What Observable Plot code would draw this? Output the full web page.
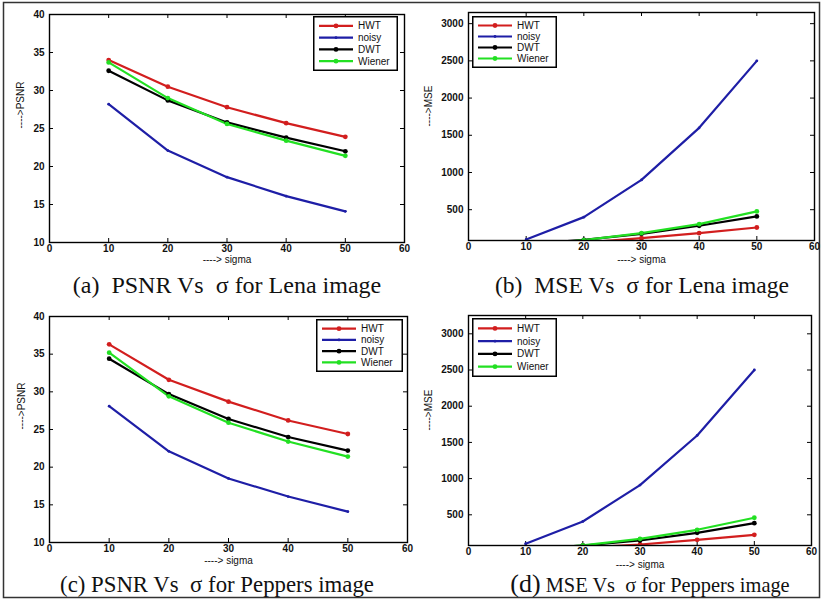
<!DOCTYPE html>
<html><head><meta charset="utf-8">
<script src="https://cdn.jsdelivr.net/npm/d3@7"></script>
<script src="https://cdn.jsdelivr.net/npm/@observablehq/plot@0.6"></script>
<style>
body{margin:0;background:#fff;}
#fig{position:relative;width:822px;height:601px;overflow:hidden;background:#fff}
.abs{position:absolute;left:0;top:0}
</style></head><body><div id="fig"></div>
<script>
// ---- data ----
const sigma = [10, 20, 30, 40, 50];
const seriesNames = ["HWT", "noisy", "DWT", "Wiener"];
const seriesColors = ["#d21e1e", "#1e1ea6", "#000000", "#22e022"];
const xTicks = [0, 10, 20, 30, 40, 50, 60];
const psnrTicks = [10, 15, 20, 25, 30, 35, 40];
const mseTicks = [500, 1000, 1500, 2000, 2500, 3000];

const lenaPsnrHWT    = [34.0, 30.5, 27.8, 25.7, 23.9];
const lenaPsnrNoisy  = [28.2, 22.1, 18.6, 16.1, 14.1];
const lenaPsnrDWT    = [32.6, 28.7, 25.8, 23.8, 22.0];
const lenaPsnrWiener = [33.7, 29.0, 25.6, 23.4, 21.4];

const lenaMseHWT    = [26, 58, 117, 185, 261];
const lenaMseNoisy  = [100, 400, 900, 1600, 2500];
const lenaMseDWT    = [36, 95, 176, 284, 410];
const lenaMseWiener = [28, 90, 185, 306, 477];

const pepPsnrHWT    = [36.3, 31.6, 28.7, 26.2, 24.4];
const pepPsnrNoisy  = [28.1, 22.1, 18.5, 16.1, 14.1];
const pepPsnrDWT    = [34.4, 29.7, 26.4, 24.0, 22.2];
const pepPsnrWiener = [35.2, 29.4, 25.9, 23.4, 21.4];

const pepMseHWT    = [15, 45, 90, 155, 224];
const pepMseNoisy  = [100, 408, 910, 1596, 2500];
const pepMseDWT    = [24, 76, 145, 251, 385];
const pepMseWiener = [19, 77, 168, 293, 459];

const captions = ["(a)  PSNR Vs  \u03c3 for Lena image", "(b)  MSE Vs  \u03c3 for Lena image",
                  "(c) PSNR Vs  \u03c3 for Peppers image", " MSE Vs  \u03c3 for Peppers image"];
const xLabel = "----> sigma";

// ---- layout ----
const fig = document.getElementById("fig");
const NS = "http://www.w3.org/2000/svg";

// background: border + captions
let bg = `<svg class="abs" width="822" height="601" xmlns="${NS}">
<rect x="3.5" y="2.5" width="816" height="595" fill="none" stroke="#333" stroke-width="1.5"/>
<g font-family="'Liberation Serif', 'Times New Roman', serif" font-weight="normal" fill="#111" text-anchor="middle" style="white-space:pre">
<text x="227" y="293" font-size="24" xml:space="preserve">${captions[0]}</text>
<text x="642" y="293" font-size="23.6" xml:space="preserve">${captions[1]}</text>
<text x="217" y="592" font-size="22.8" xml:space="preserve">${captions[2]}</text>
<text x="650" y="592" font-size="20.4" xml:space="preserve"><tspan font-size="26">(d)</tspan>${captions[3]}</text>
</g></svg>`;
fig.insertAdjacentHTML("beforeend", bg);

function panel({series, yDomain, yTicks, yLabel, left, top, width, height, m, xdy, ydx, legendBox}) {
  const rows = [];
  seriesNames.forEach((name, i) => series[i].forEach((v, j) => rows.push({series: name, sigma: sigma[j], value: v})));
  const fw = width - m.l - m.r, fh = height - m.t - m.b;
  const plot = Plot.plot({
    width, height, marginLeft: m.l, marginRight: m.r, marginTop: m.t, marginBottom: m.b,
    style: {fontFamily: "Liberation Sans, Arial, sans-serif", fontSize: "10px", fontWeight: "bold", color: "#111", background: "transparent", overflow: "visible"},
    x: {domain: [0, 60], label: null},
    y: {domain: yDomain, label: null},
    color: {domain: seriesNames, range: seriesColors},
    marks: [
      Plot.axisX(xTicks, {tickSize: 0, tickPadding: 2, label: null, tickFormat: d => String(d)}),
      Plot.axisY(yTicks, {tickSize: 0, tickPadding: 5, label: null, tickFormat: d => String(d)}),
      Plot.tickX(xTicks, {x: d => d, insetTop: fh - 4, stroke: "#000"}),
      Plot.tickX(xTicks, {x: d => d, insetBottom: fh - 4, stroke: "#000"}),
      Plot.tickY(yTicks, {y: d => d, insetRight: fw - 4, stroke: "#000"}),
      Plot.tickY(yTicks, {y: d => d, insetLeft: fw - 4, stroke: "#000"}),
      Plot.line(rows, {x: "sigma", y: "value", stroke: "series", z: "series", strokeWidth: 2.2, clip: true}),
      Plot.dot(rows, {filter: d => d.series !== "noisy", x: "sigma", y: "value", fill: "series", r: 2.4, clip: true}),
      Plot.dot(rows, {filter: d => d.series === "noisy", x: "sigma", y: "value", fill: "series", r: 1.4, clip: true}),
      Plot.frame({stroke: "#000", strokeWidth: 1.4}),
      Plot.text([xLabel], {text: d => d, frameAnchor: "bottom", dy: xdy, fontSize: 10, fontWeight: "normal", fill: "#111", letterSpacing: "0.8px"}),
      Plot.text([yLabel], {text: d => d, frameAnchor: "left", dx: ydx, rotate: -90, fontSize: 10, fontWeight: "normal", fill: "#111"})
    ]
  });
  plot.style.position = "absolute";
  plot.style.left = left + "px";
  plot.style.top = top + "px";
  fig.appendChild(plot);

  // legend
  const [lx, ly, lw, lh] = legendBox;
  const rowH = (lh - 8) / 4;
  let s = `<svg xmlns="${NS}" width="${lw}" height="${lh}" style="position:absolute;left:${lx}px;top:${ly}px">
  <rect x="0.75" y="0.75" width="${lw - 1.5}" height="${lh - 1.5}" fill="#fff" stroke="#000" stroke-width="1.5"/>`;
  seriesNames.forEach((n, i) => {
    const y = 4 + rowH * (i + 0.5);
    s += `<line x1="6" x2="40" y1="${y}" y2="${y}" stroke="${seriesColors[i]}" stroke-width="2.2"/>`;
    s += `<circle cx="23" cy="${y}" r="${n === "noisy" ? 1.4 : 2.4}" fill="${seriesColors[i]}"/>`;
    s += `<text x="45" y="${y}" dy="0.35em" font-family="Liberation Sans, Arial, sans-serif" font-size="10" fill="#111">${n}</text>`;
  });
  s += `</svg>`;
  fig.insertAdjacentHTML("beforeend", s);
}

panel({series: [lenaPsnrHWT, lenaPsnrNoisy, lenaPsnrDWT, lenaPsnrWiener], yDomain: [10, 40], yTicks: psnrTicks,
  yLabel: "---->PSNR", left: 0, top: 0, width: 410, height: 275, m: {l: 49, r: 6, t: 14, b: 33}, xdy: 20, ydx: -29,
  legendBox: [313, 16, 85, 55]});
panel({series: [lenaMseHWT, lenaMseNoisy, lenaMseDWT, lenaMseWiener], yDomain: [86, 3150], yTicks: mseTicks,
  yLabel: "---->MSE", left: 415, top: 0, width: 405, height: 275, m: {l: 53, r: 6, t: 12, b: 35}, xdy: 22, ydx: -40,
  legendBox: [472, 16, 85, 52]});
panel({series: [pepPsnrHWT, pepPsnrNoisy, pepPsnrDWT, pepPsnrWiener], yDomain: [10, 40], yTicks: psnrTicks,
  yLabel: "---->PSNR", left: 0, top: 300, width: 410, height: 275, m: {l: 49, r: 3, t: 16, b: 33}, xdy: 21, ydx: -28,
  legendBox: [316, 319, 87, 53]});
panel({series: [pepMseHWT, pepMseNoisy, pepMseDWT, pepMseWiener], yDomain: [76, 3253], yTicks: mseTicks,
  yLabel: "---->MSE", left: 415, top: 300, width: 405, height: 275, m: {l: 53, r: 9, t: 15, b: 30}, xdy: 22, ydx: -40,
  legendBox: [472, 318, 85, 59]});
</script></body></html>
